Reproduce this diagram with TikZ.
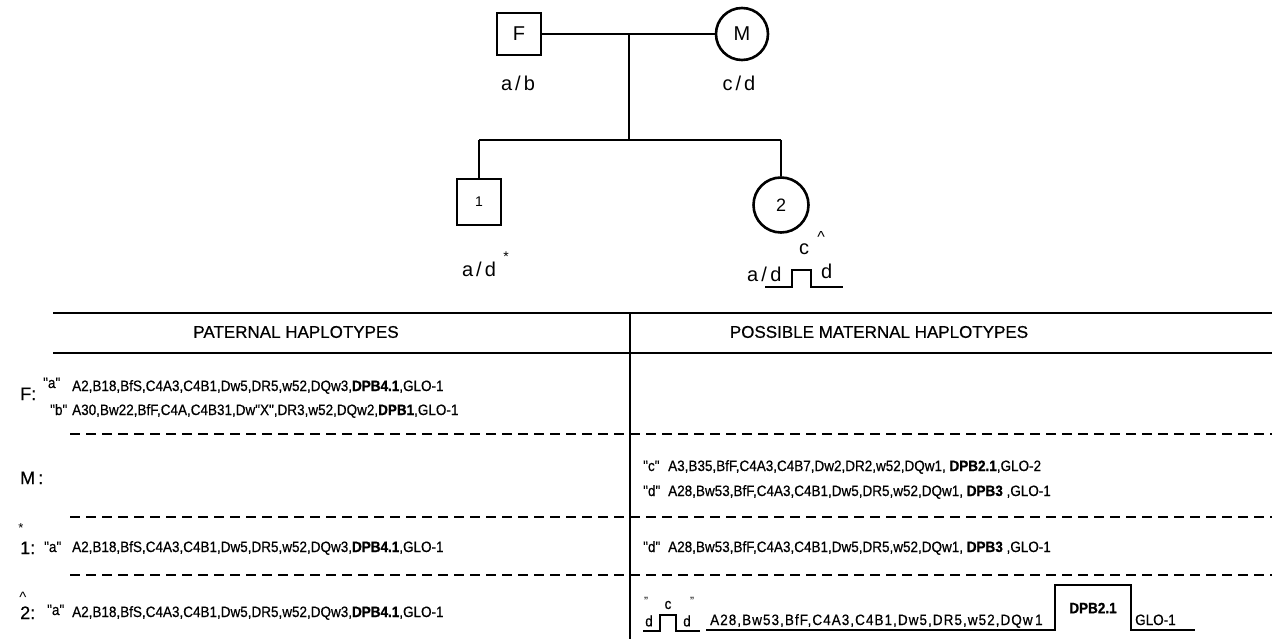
\documentclass[tikz,border=0pt]{standalone}
\usepackage{fontspec}
\setmainfont{Liberation Sans}
\newfontfamily\narf{Liberation Sans}[FakeStretch=0.9,FakeBold=0.6]
\newfontfamily\narspf{Liberation Sans}[FakeStretch=0.9,LetterSpace=7,FakeBold=0.6]
\newfontfamily\hdrf{Liberation Sans}[FakeBold=0.5]
\newcommand{\rowf}{\narf\fontsize{15}{18}\selectfont}
\newcommand{\pedf}{\fontsize{20}{22}\selectfont}
\begin{document}
\begin{tikzpicture}[x=1pt,y=-1pt,
  ped/.style={draw, line width=2.6pt, inner sep=0pt, font=\pedf},
  sqn/.style={ped, rectangle, minimum width=44pt, minimum height=42pt},
  cin/.style={ped, circle, minimum size=52pt},
  pline/.style={line width=2.3pt},
  tline/.style={line width=1.6pt},
  dline/.style={line width=1.5pt, dash pattern=on 10pt off 6pt},
  lab/.style={font=\pedf, inner sep=0pt},
  rowt/.style={font=\rowf, anchor=base west, inner sep=0pt},
  big/.style={font=\hdrf\fontsize{18}{20}\selectfont, anchor=base west, inner sep=0pt},
  hdr/.style={font=\hdrf\fontsize{17}{20}\selectfont, inner sep=0pt},
  uline/.style={line width=1.4pt}
]
\useasboundingbox (0,0) rectangle (1278,639);

% ---------- pedigree ----------
\node[sqn] (F) at (519,34) {F};
\node[cin] (M) at (742,34) {M};
\coordinate (mid) at (629,34);
\coordinate (sib) at (629,140);
\coordinate (sL) at (479,140);
\coordinate (sR) at (781,140);
\draw[pline] (F.east) -- (M.west);
\draw[pline] (mid) -- (sib);
\draw[pline] (sL) -- (sR);
\node[sqn, minimum width=44pt, minimum height=46pt, font=\fontsize{14}{16}\selectfont] (c1) at (479,202) {1};
\node[cin, minimum size=55pt, font=\fontsize{18}{20}\selectfont] (c2) at (781,205) {2};
\draw[pline] (sL) -- (c1.north);
\draw[pline] (sR) -- (c2.north);

\node[lab] (lF) at (518,83) {a\kern3pt/\kern3pt b};
\node[lab] (lM) at (739,83) {c\kern3pt/\kern3pt d};
\node[lab] (l1) at (479,269) {a\kern3pt/\kern3pt d};
\node[lab, font=\fontsize{14}{16}\selectfont] (st1) at (506,257) {*};

\node[lab, anchor=base west] (l2) at (747,282) {a\kern3pt/\kern3pt};
\node[lab, anchor=base west] (l2d) at (l2.base east) {d};
\node[lab] (l2c) at (804,249) {c};
\node[lab, font=\fontsize{16}{18}\selectfont] (l2h) at (821,237) {\textasciicircum};
\node[lab, anchor=base west] (l2d2) at (821,279) {d};
\coordinate (u0) at (765,287);
\coordinate (u1) at (792,287);
\coordinate (u2) at (792,270);
\coordinate (u3) at (811,270);
\coordinate (u4) at (811,287);
\coordinate (u5) at (843,287);
\draw[uline] (u0) -- (u1) -- (u2) -- (u3) -- (u4) -- (u5);

% ---------- table frame ----------
\coordinate (t1l) at (53,313);  \coordinate (t1r) at (1272,313);
\coordinate (t2l) at (53,353);  \coordinate (t2r) at (1272,353);
\coordinate (vt) at (630,313);  \coordinate (vb) at (630,639);
\draw[tline] (t1l) -- (t1r);
\draw[tline] (t2l) -- (t2r);
\draw[tline] (vt) -- (vb);
\node[hdr] (hp) at (296,332) {PATERNAL HAPLOTYPES};
\node[hdr] (hm) at (879,332) {POSSIBLE MATERNAL HAPLOTYPES};

\coordinate (d1l) at (70,434);  \coordinate (d1r) at (1272,434);
\coordinate (d2l) at (70,517);  \coordinate (d2r) at (1272,517);
\coordinate (d3l) at (70,575);  \coordinate (d3r) at (1272,575);
\draw[dline] (d1l) -- (d1r);
\draw[dline] (d2l) -- (d2r);
\draw[dline] (d3l) -- (d3r);

% ---------- left rows ----------
\node[big] (rF) at (20,400) {F:};
\node[rowt] (qa) at (43,388) {"a"};
\node[rowt] (ta) at (72,391) {A2,B18,BfS,C4A3,C4B1,Dw5,DR5,w52,DQw3,\textbf{DPB4.1},GLO-1};
\node[rowt] (qb) at (50,415) {"b"};
\node[rowt] (tb) at (72,415) {A30,Bw22,BfF,C4A,C4B31,Dw"X",DR3,w52,DQw2,\textbf{DPB1},GLO-1};
\node[big] (rM) at (20,484) {M\,:};
\node[lab, font=\fontsize{13}{15}\selectfont] (s1) at (21,528) {*};
\node[big] (r1) at (20,554) {1:};
\node[rowt] (q1) at (44,552) {"a"};
\node[rowt] (t1) at (72,552) {A2,B18,BfS,C4A3,C4B1,Dw5,DR5,w52,DQw3,\textbf{DPB4.1},GLO-1};
\node[lab, font=\fontsize{15}{17}\selectfont] (h2) at (23,597) {\textasciicircum};
\node[big] (r2) at (20,619) {2:};
\node[rowt] (q2) at (47,615) {"a"};
\node[rowt] (t2) at (72,617) {A2,B18,BfS,C4A3,C4B1,Dw5,DR5,w52,DQw3,\textbf{DPB4.1},GLO-1};

% ---------- right rows ----------
\node[rowt] (qc) at (643,471) {"c"};
\node[rowt] (tc) at (668,471) {A3,B35,BfF,C4A3,C4B7,Dw2,DR2,w52,DQw1, \textbf{DPB2.1},GLO-2};
\node[rowt] (qd) at (643,496) {"d"};
\node[rowt] (td) at (668,496) {A28,Bw53,BfF,C4A3,C4B1,Dw5,DR5,w52,DQw1, \textbf{DPB3} ,GLO-1};
\node[rowt] (qd1) at (643,552) {"d"};
\node[rowt] (td1) at (668,552) {A28,Bw53,BfF,C4A3,C4B1,Dw5,DR5,w52,DQw1, \textbf{DPB3} ,GLO-1};

% bottom-right recombinant
\node[lab, font=\fontsize{12}{12}\selectfont] (bq1) at (646,601) {"};
\node[lab, font=\rowf] (bd1) at (649,621) {d};
\node[lab, font=\rowf] (bc) at (668,605) {c};
\node[lab, font=\rowf] (bd2) at (687,621) {d};
\node[lab, font=\fontsize{12}{12}\selectfont] (bq2) at (692,601) {"};
\coordinate (b0) at (643,631);
\coordinate (b1) at (660,631);
\coordinate (b2) at (660,615);
\coordinate (b3) at (676,615);
\coordinate (b4) at (676,631);
\coordinate (b5) at (700,631);
\draw[uline] (b0) -- (b1) -- (b2) -- (b3) -- (b4) -- (b5);
\node[rowt, font=\narspf\fontsize{15}{18}\selectfont] (bt) at (710,625) {A28,Bw53,BfF,C4A3,C4B1,Dw5,DR5,w52,DQw\,1};
\node[lab, font=\rowf\bfseries] (bp) at (1093,608) {DPB2.1};
\node[rowt] (bg) at (1135,625) {GLO-1};
\coordinate (e0) at (706,630);
\coordinate (e1) at (1055,630);
\coordinate (e2) at (1055,585);
\coordinate (e3) at (1131,585);
\coordinate (e4) at (1131,630);
\coordinate (e5) at (1195,630);
\draw[uline] (e0) -- (e1) -- (e2) -- (e3) -- (e4) -- (e5);
\end{tikzpicture}
\end{document}
